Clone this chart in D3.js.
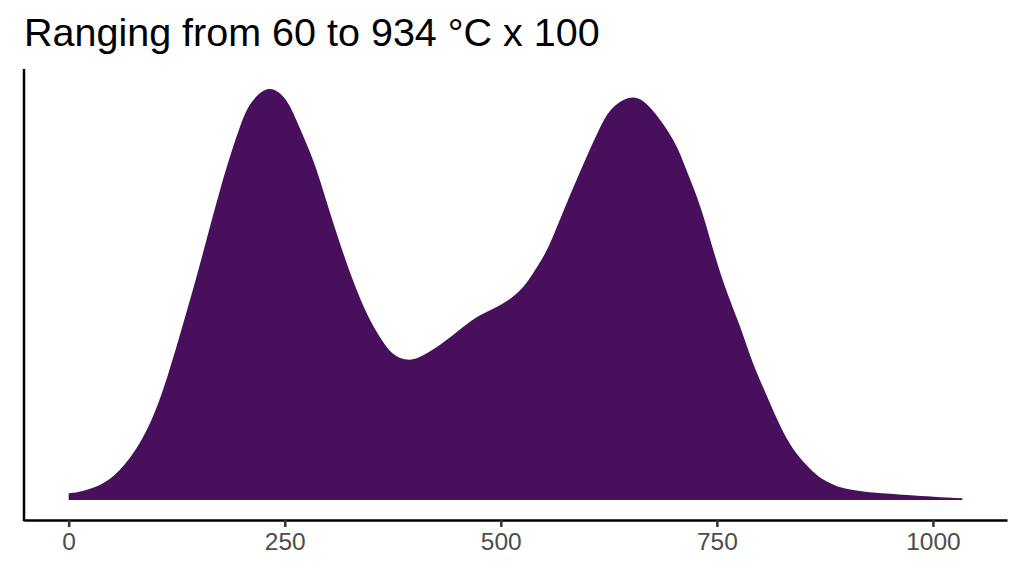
<!DOCTYPE html>
<html>
<head>
<meta charset="utf-8">
<script src="https://cdn.jsdelivr.net/npm/d3@7"></script>
<style>
  body { margin: 0; background: #fff; }
  svg { display: block; font-family: "Liberation Sans", Arial, sans-serif; }
</style>
</head>
<body>
<div class="container"></div>
<script>
const title = "Ranging from 60 to 934 °C x 100";

// density curve (x in °C x 100, y as density x 1000)
const temps = [0, 12, 36, 59, 82, 105, 128, 151, 175, 198, 213, 232, 252, 267, 283, 298,
  314, 329, 345, 360, 375, 391, 406, 429, 456, 476, 499, 522, 537, 553, 568, 584,
  599, 615, 630, 653, 676, 700, 715, 731, 746, 761, 777, 792, 808, 823,
  838, 854, 869, 885, 900, 931, 970, 1001, 1034];
const density = [0.031, 0.038, 0.069, 0.138, 0.262, 0.462, 0.754, 1.077, 1.431, 1.723, 1.846, 1.900, 1.846, 1.723, 1.569, 1.385,
  1.185, 1.015, 0.862, 0.754, 0.677, 0.649, 0.661, 0.715, 0.798, 0.854, 0.900, 0.969, 1.046, 1.154, 1.292, 1.446,
  1.584, 1.723, 1.815, 1.861, 1.800, 1.661, 1.523, 1.354, 1.154, 0.969, 0.800, 0.631, 0.480, 0.345,
  0.238, 0.160, 0.105, 0.070, 0.052, 0.034, 0.023, 0.015, 0.008];
const xTicks = [0, 250, 500, 750, 1000];

const width = 1024;
const height = 576;
const margin = { top: 69, right: 17, bottom: 56, left: 24 };
const fillColor = "#480f5d";

const points = temps.map((t, i) => ({ t, d: density[i] }));

const svg = d3.select(".container")
  .append("svg")
  .attr("width", width)
  .attr("height", height);

// ggplot style 5% expansion on both axes
const xExt = d3.extent(temps);
const xPad = (xExt[1] - xExt[0]) * 0.05;
const x = d3.scaleLinear()
  .domain([xExt[0] - xPad, xExt[1] + xPad])
  .range([margin.left, width - margin.right]);

const yMax = d3.max(density);
const y = d3.scaleLinear()
  .domain([-yMax * 0.05, yMax * 1.05])
  .range([height - margin.bottom + 0.5, margin.top - 0.5]);

const area = d3.area()
  .x((p) => x(p.t))
  .y0(y(0))
  .y1((p) => y(p.d))
  .curve(d3.curveNatural);

svg.append("path")
  .datum(points)
  .attr("d", area)
  .attr("fill", fillColor);

const xAxis = svg.append("g")
  .attr("transform", `translate(0,${height - margin.bottom})`)
  .call(
    d3.axisBottom(x)
      .tickValues(xTicks)
      .tickFormat(d3.format("d"))
      .tickSizeInner(7)
      .tickSizeOuter(0)
      .tickPadding(6),
  );

xAxis.select(".domain")
  .attr("stroke", "#000")
  .attr("stroke-width", 2.5);
xAxis.selectAll(".tick line")
  .attr("stroke", "#333")
  .attr("stroke-width", 2.5);
xAxis.selectAll(".tick text")
  .attr("fill", "#4d4d4d")
  .attr("font-size", 24.5)
  .attr("font-family", "Liberation Sans, Arial, sans-serif");

svg.append("line")
  .attr("x1", margin.left)
  .attr("x2", margin.left)
  .attr("y1", margin.top)
  .attr("y2", height - margin.bottom + 1.2)
  .attr("stroke", "#000")
  .attr("stroke-width", 2.5);

svg.append("text")
  .attr("x", margin.left)
  .attr("y", 46)
  .attr("font-size", 39.5)
  .attr("fill", "#000")
  .text(title);
</script>
</body>
</html>
